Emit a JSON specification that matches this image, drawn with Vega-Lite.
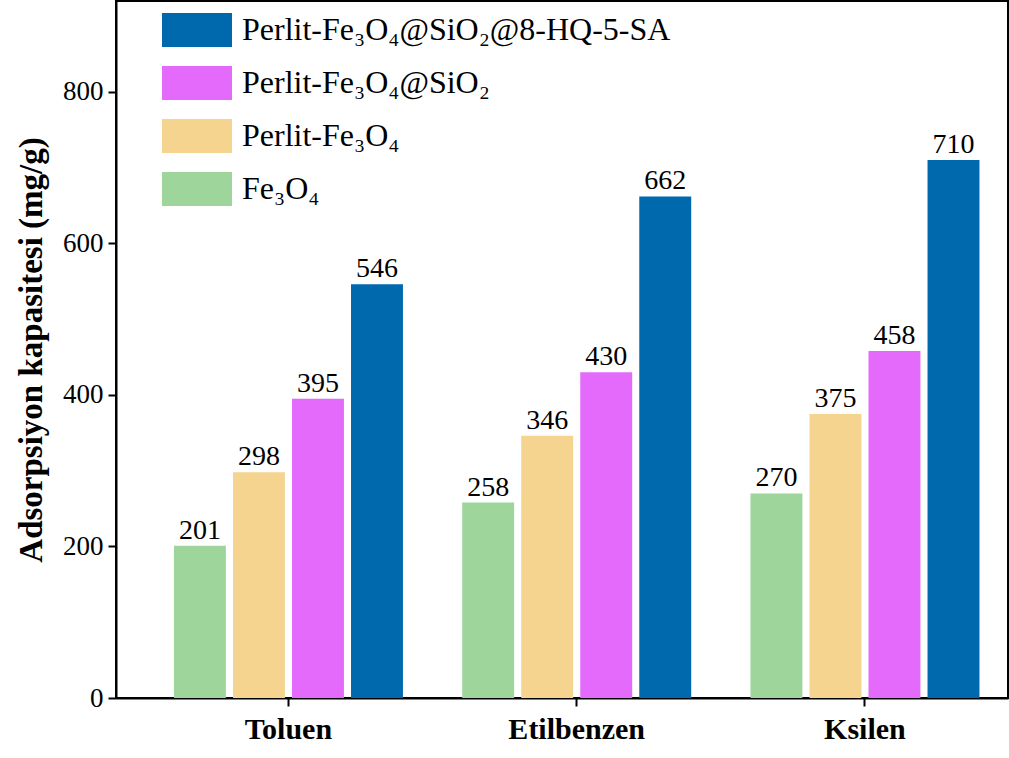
{
  "$schema": "https://vega.github.io/schema/vega-lite/v6.json",
  "width": 892,
  "height": 697,
  "autosize": {"type": "none"},
  "padding": {"left": 116, "top": 1, "right": 1, "bottom": 60},
  "config": {
    "font": "Liberation Serif",
    "view": {"stroke": "#000000", "strokeWidth": 2},
    "axis": {"grid": false}
  },
  "data": {
    "values": [
      {"sample": "Toluen", "series": "Fe₃O₄", "value": 201},
      {"sample": "Toluen", "series": "Perlit-Fe₃O₄", "value": 298},
      {"sample": "Toluen", "series": "Perlit-Fe₃O₄@SiO₂", "value": 395},
      {"sample": "Toluen", "series": "Perlit-Fe₃O₄@SiO₂@8-HQ-5-SA", "value": 546},
      {"sample": "Etilbenzen", "series": "Fe₃O₄", "value": 258},
      {"sample": "Etilbenzen", "series": "Perlit-Fe₃O₄", "value": 346},
      {"sample": "Etilbenzen", "series": "Perlit-Fe₃O₄@SiO₂", "value": 430},
      {"sample": "Etilbenzen", "series": "Perlit-Fe₃O₄@SiO₂@8-HQ-5-SA", "value": 662},
      {"sample": "Ksilen", "series": "Fe₃O₄", "value": 270},
      {"sample": "Ksilen", "series": "Perlit-Fe₃O₄", "value": 375},
      {"sample": "Ksilen", "series": "Perlit-Fe₃O₄@SiO₂", "value": 458},
      {"sample": "Ksilen", "series": "Perlit-Fe₃O₄@SiO₂@8-HQ-5-SA", "value": 710}
    ]
  },
  "encoding": {
    "x": {
      "field": "sample", "type": "nominal", "sort": null,
      "scale": {"paddingInner": 0.2055, "paddingOuter": 0.15, "align": 0.67},
      "axis": {
        "title": null, "labelAngle": 0, "labelFont": "Liberation Serif", "labelFontSize": 30,
        "labelFontWeight": "bold", "labelColor": "#000000", "labelPadding": 8,
        "domainColor": "#000000", "domainWidth": 2, "tickColor": "#000000", "tickWidth": 2, "tickSize": 8
      }
    },
    "xOffset": {
      "field": "series", "type": "nominal",
      "scale": {"domain": ["Fe₃O₄", "Perlit-Fe₃O₄", "Perlit-Fe₃O₄@SiO₂", "Perlit-Fe₃O₄@SiO₂@8-HQ-5-SA"], "paddingInner": 0.12, "paddingOuter": 0}
    },
    "y": {
      "field": "value", "type": "quantitative",
      "scale": {"domain": [0, 920], "nice": false},
      "axis": {
        "title": "Adsorpsiyon kapasitesi (mg/g)", "titleFont": "Liberation Serif", "titleFontSize": 33,
        "titleFontWeight": "bold", "titleColor": "#000000", "titlePadding": 14,
        "values": [0, 200, 400, 600, 800],
        "labelFont": "Liberation Serif", "labelFontSize": 27, "labelColor": "#000000", "labelPadding": 5,
        "domainColor": "#000000", "domainWidth": 2, "tickColor": "#000000", "tickWidth": 2, "tickSize": 8
      }
    }
  },
  "layer": [
    {
      "mark": {"type": "bar"},
      "encoding": {
        "color": {
          "field": "series", "type": "nominal",
          "scale": {
            "domain": ["Perlit-Fe₃O₄@SiO₂@8-HQ-5-SA", "Perlit-Fe₃O₄@SiO₂", "Perlit-Fe₃O₄", "Fe₃O₄"],
            "range": ["#0069ad", "#e46afc", "#f5d490", "#9dd59b"]
          },
          "legend": {
            "title": null, "orient": "none", "legendX": 46, "legendY": -6,
            "symbolType": "M-1,-0.486H1V0.486H-1Z", "symbolSize": 4900, "symbolStrokeWidth": 0, "symbolOpacity": 1,
            "labelFont": "Liberation Serif", "labelFontSize": 32, "labelColor": "#000000",
            "labelOffset": 10, "rowPadding": -22, "padding": 0, "labelLimit": 700
          }
        }
      }
    },
    {
      "mark": {"type": "text", "baseline": "alphabetic", "dy": -7, "fontSize": 28, "font": "Liberation Serif", "color": "#000000"},
      "encoding": {"text": {"field": "value", "type": "quantitative"}}
    }
  ]
}
